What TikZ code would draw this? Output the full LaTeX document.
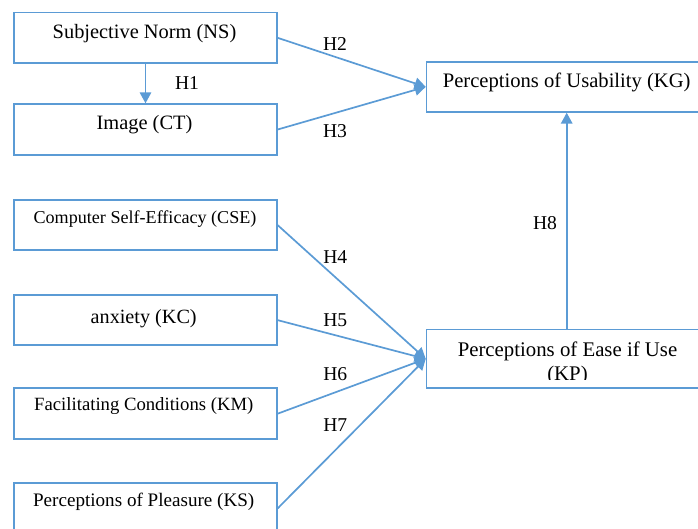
\documentclass[tikz,border=0pt]{standalone}
\usepackage{fontspec}
\setmainfont{Liberation Serif}
\usetikzlibrary{arrows.meta}
\definecolor{lineblue}{HTML}{5B9BD5}
\begin{document}
\begin{tikzpicture}[x=1pt,y=-1pt,
  box/.style={draw=lineblue, line width=1.7pt, rectangle, inner sep=0pt, anchor=north west, minimum width=262.7pt},
  rbox/.style={box, minimum width=300pt},
  lbl/.style={inner sep=0pt, text=black, font=\fontsize{#1}{24}\selectfont},
  lbl/.default=20,
  hyp/.style={inner sep=0pt, text=black, font=\fontsize{19.6}{24}\selectfont},
  link/.style={draw=lineblue, line width=1.7pt, -{Triangle[length=11pt,width=11.5pt]}}]
\useasboundingbox (0,0) rectangle (698,528);
\begin{scope}
\clip (0,0) rectangle (698,528);
% boxes
\node[box, minimum height=50.6pt] (ns) at (13.3,11.7) {};
\node[box, minimum height=50.7pt] (ct) at (13.3,103.3) {};
\node[box, minimum height=50pt] (cse) at (13.3,199.3) {};
\node[box, minimum height=50pt] (kc) at (13.3,294.3) {};
\node[box, minimum height=51pt] (km) at (13.3,387.3) {};
\node[box, minimum height=51pt] (ks) at (13.3,482) {};
\node[rbox, minimum height=50pt] (kg) at (425.7,61) {};
\node[rbox, minimum height=58.6pt] (kp) at (425.7,328.7) {};
% texts
\node[lbl=20.4] (nst) at (144.5,33.3) {Subjective Norm (NS)};
\node[lbl=20.4] (ctt) at (144.5,124.5) {Image (CT)};
\node[lbl=18.1] (cset) at (145,219) {Computer Self-Efficacy (CSE)};
\node[lbl=20.2] (kct) at (143.7,318.3) {anxiety (KC)};
\node[lbl=18.7] (kmt) at (143.8,406.3) {Facilitating Conditions (KM)};
\node[lbl=19.1] (kst) at (143.7,501.3) {Perceptions of Pleasure (KS)};
\node[lbl=20.6] (kgt) at (566.7,82) {Perceptions of Usability (KG)};
\begin{scope}
\clip (426,329) rectangle (720,379);
\node[inner sep=0pt, align=center, font=\fontsize{20.8}{24.3}\selectfont] (kpt) at (567.5,363.5) {Perceptions of Ease if Use\\(KP)};
\end{scope}
% connectors
\coordinate (h8x) at (566.7,0);
\draw[link] (ns.south) -- (ct.north);
\draw[link] (ns.east) -- (kg.west);
\draw[link] (ct.east) -- (kg.west);
\draw[link] (cse.east) -- (kp.west);
\draw[link] (kc.east) -- (kp.west);
\draw[link] (km.east) -- (kp.west);
\draw[link] (ks.east) -- (kp.west);
\draw[link] (kp.north -| h8x) -- (kg.south -| h8x);
% hypothesis labels
\node[hyp] (h1) at (187,83.3) {H1};
\node[hyp] (h2) at (335,44.2) {H2};
\node[hyp] (h3) at (335,130.8) {H3};
\node[hyp] (h4) at (335.3,257.2) {H4};
\node[hyp] (h5) at (335.3,320.3) {H5};
\node[hyp] (h6) at (335.3,373.8) {H6};
\node[hyp] (h7) at (335.3,425.3) {H7};
\node[hyp] (h8) at (545,223.3) {H8};
\end{scope}
\end{tikzpicture}
\end{document}
